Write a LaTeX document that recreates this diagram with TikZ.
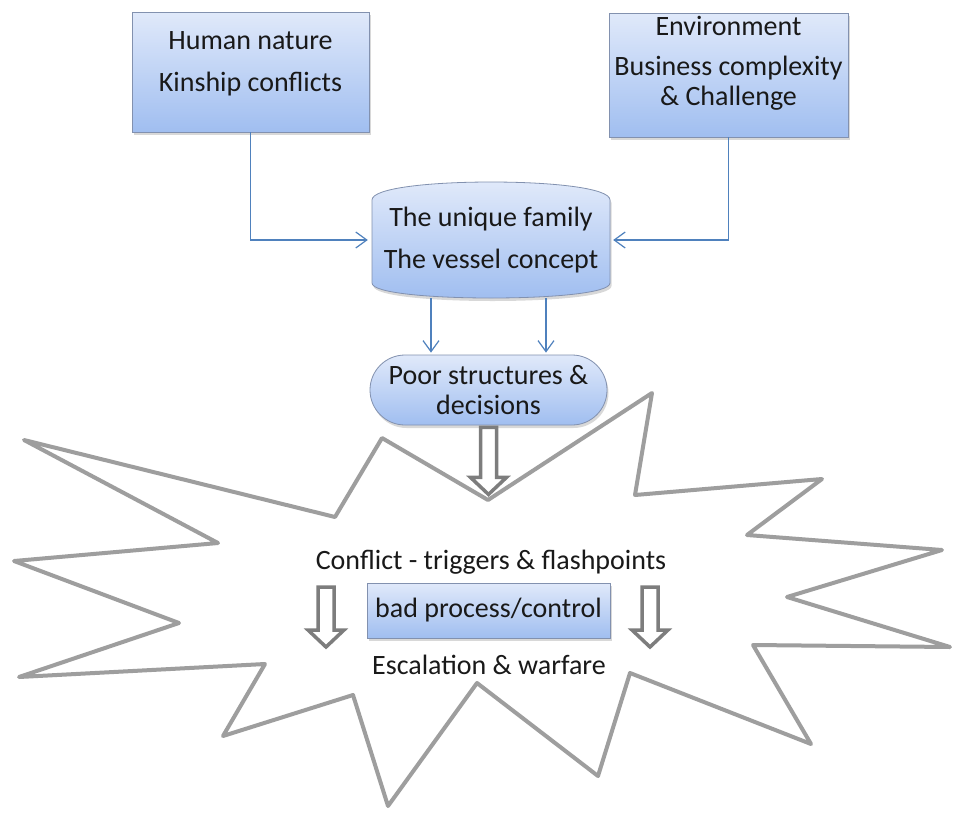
\documentclass[tikz,border=0pt]{standalone}
\usepackage{fontspec}
\setmainfont{Carlito}
\usetikzlibrary{arrows.meta,shadows,calc}
\definecolor{boxtop}{RGB}{224,233,250}
\definecolor{boxbot}{RGB}{160,190,240}
\definecolor{boxline}{RGB}{130,145,175}
\definecolor{connblue}{RGB}{79,129,189}
\definecolor{burstgray}{RGB}{158,158,158}
\definecolor{hollowgray}{RGB}{125,125,125}
\begin{document}
\begin{tikzpicture}[x=1pt,y=-1pt,
  font=\fontsize{28}{30}\selectfont,
  box/.style={draw=boxline, line width=0.8pt, top color=boxtop, bottom color=boxbot,
    drop shadow={shadow xshift=1.5pt, shadow yshift=-3pt, opacity=0.3}},
  txt/.style={align=center, text=black!90, inner sep=0pt},
  conn/.style={draw=connblue, line width=1.2pt, -{Straight Barb[length=11pt,width=16pt]}},
  hollow/.style={draw=hollowgray, fill=white, line width=3.5pt},
  burst/.style={draw=burstgray, line width=4pt, line join=round},
  pics/hdown/.style={code={
    \draw[hollow] (-8,0) -- (8,0) -- (8,#1) -- (18,#1) -- (0,{#1+17})
      -- (-18,#1) -- (-8,#1) -- cycle;}}]
\useasboundingbox[fill=white] (0,0) rectangle (954,812);

% explosion outline
\draw[burst] (24,440) -- (218,543) -- (14,561) -- (179,623) -- (19,677)
  -- (265,664) -- (223,736) -- (353,695) -- (388,806) -- (477,683)
  -- (598,776) -- (630,673) -- (811,744) -- (753,645) -- (950,647)
  -- (787,597) -- (942,550) -- (747,535) -- (822,479) -- (635,495)
  -- (652,393) -- (488,500) -- (382,438) -- (335,517) -- cycle;

% top boxes
\node[box, minimum width=237pt, minimum height=120pt] (hn) at (250.5,72) {};
\node[txt] (hnt) at ([yshift=8pt]hn.center) {Human nature\\[12pt]Kinship conflicts};
\node[box, minimum width=239pt, minimum height=124pt] (env) at (728.5,75) {};
\node[txt] (envt) at ([yshift=12pt]env.center)
  {Environment\\[10pt]Business complexity\\\& Challenge};

% the family vessel
\path[draw=boxline, line width=0.8pt, top color=boxtop, bottom color=boxbot,
  drop shadow={shadow xshift=1.5pt, shadow yshift=-3pt, opacity=0.3}]
  (372,283) -- (372,200) .. controls (372,188) and (430,182) .. (491,182)
  .. controls (552,182) and (610,188) .. (610,200) -- (610,283)
  .. controls (610,293) and (552,298) .. (491,298)
  .. controls (430,298) and (372,293) .. (372,283) -- cycle;
\node[txt, minimum width=238pt, minimum height=116pt] (uf) at (491,240)
  {The unique family\\[12pt]The vessel concept};

% outcome box
\node[box, rounded corners=35pt, minimum width=237pt, minimum height=70pt, txt,
  inner sep=0pt] (ps) at (488.5,390) {Poor structures \&\\decisions};

% connectors
\draw[conn, shorten >=4pt] (hn.south) |- (uf.west);
\draw[conn, shorten >=3pt] (env.south) |- (uf.east);
\draw[conn, shorten >=2pt] ([xshift=-60pt]uf.south) -- ([xshift=-60pt]uf.south |- ps.north);
\draw[conn, shorten >=2pt] ([xshift=55pt]uf.south) -- ([xshift=55pt]uf.south |- ps.north);
\pic at ([yshift=-2pt]ps.south) {hdown=50};

% inside the explosion
\node[txt] (cf) at (491,562) {Conflict - triggers \& flashpoints};
\node[box, txt, minimum width=243pt, minimum height=55pt] (bp) at (488.5,610.5)
  {bad process/control};
\node[txt] (esc) at (489,665) {Escalation \& warfare};
\pic at (326,587) {hdown=43};
\pic at (650,587) {hdown=43};
\end{tikzpicture}
\end{document}
